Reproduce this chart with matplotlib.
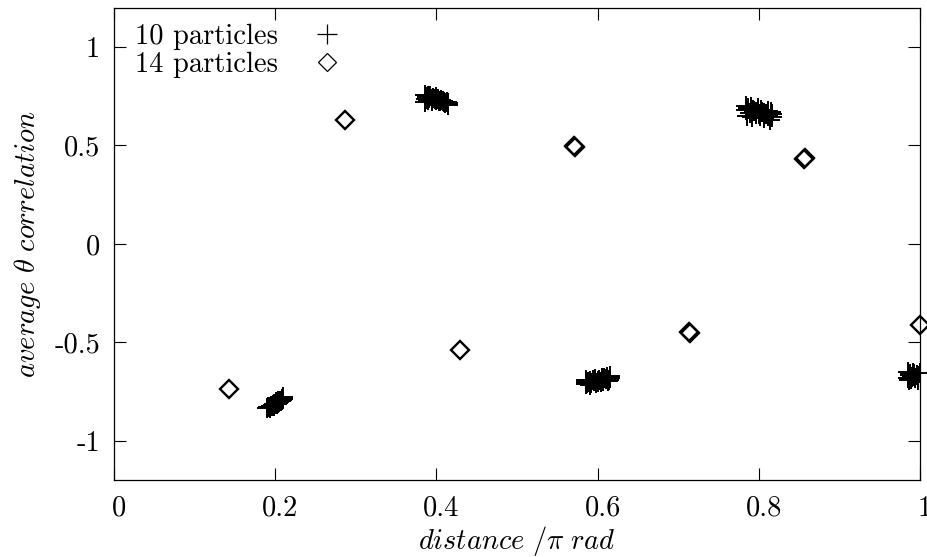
import matplotlib
matplotlib.use("Agg")
import matplotlib.pyplot as plt
import matplotlib.transforms as mtrans

plt.rcParams['font.family'] = ['cmr10', 'DejaVu Serif']
plt.rcParams['mathtext.fontset'] = 'cm'
plt.rcParams['axes.unicode_minus'] = False
plt.rcParams['axes.formatter.use_mathtext'] = True

# 10 particles: many runs per distance, they pile up into blobs
x10_a = [0.190, 0.191, 0.192, 0.193, 0.194, 0.195, 0.196, 0.197, 0.198, 0.199, 0.200, 0.201,
         0.202, 0.203, 0.204, 0.205, 0.206, 0.207, 0.208, 0.209, 0.210, 0.210]
y10_a = [-0.836, -0.830, -0.828, -0.833, -0.831, -0.822, -0.826, -0.818, -0.815, -0.824, -0.812, -0.806,
         -0.815, -0.810, -0.800, -0.804, -0.797, -0.801, -0.792, -0.788, -0.786, -0.776]
x10_b = [0.386, 0.386, 0.387, 0.388, 0.389, 0.390, 0.391, 0.392, 0.394, 0.395, 0.396, 0.398,
         0.399, 0.400, 0.402, 0.403, 0.405, 0.406, 0.408, 0.410, 0.411, 0.413, 0.414, 0.415, 0.415]
y10_b = [0.758, 0.722, 0.738, 0.745, 0.752, 0.733, 0.742, 0.750, 0.728, 0.736, 0.741, 0.735,
         0.746, 0.731, 0.738, 0.727, 0.724, 0.733, 0.728, 0.720, 0.716, 0.722, 0.712, 0.708, 0.716]
x10_c = [0.585, 0.585, 0.586, 0.587, 0.588, 0.590, 0.591, 0.592, 0.594, 0.595, 0.597, 0.598,
         0.600, 0.601, 0.602, 0.604, 0.605, 0.607, 0.608, 0.610, 0.612, 0.613, 0.614, 0.615, 0.615]
y10_c = [-0.712, -0.700, -0.690, -0.706, -0.703, -0.695, -0.715, -0.708, -0.692, -0.699, -0.688, -0.706,
         -0.702, -0.695, -0.693, -0.700, -0.684, -0.697, -0.681, -0.688, -0.678, -0.695, -0.692, -0.672, -0.684]
x10_d = [0.784, 0.784, 0.785, 0.786, 0.787, 0.789, 0.790, 0.791, 0.793, 0.794, 0.796, 0.797,
         0.799, 0.800, 0.801, 0.803, 0.804, 0.806, 0.807, 0.809, 0.811, 0.812, 0.814, 0.815, 0.816, 0.816]
y10_d = [0.700, 0.678, 0.652, 0.690, 0.685, 0.667, 0.695, 0.646, 0.681, 0.676, 0.659, 0.672,
         0.690, 0.662, 0.648, 0.679, 0.668, 0.638, 0.664, 0.658, 0.674, 0.650, 0.630, 0.668, 0.662, 0.645]
x10_e = [0.985, 0.985, 0.986, 0.987, 0.988, 0.989, 0.990, 0.991, 0.992, 0.993, 0.994, 0.996, 0.997, 0.998]
y10_e = [-0.652, -0.680, -0.690, -0.662, -0.668, -0.686, -0.678, -0.655, -0.660, -0.672, -0.684, -0.664, -0.693, -0.672]
x10_edge = [1.0]
y10_edge = [-0.656]

x10 = x10_a + x10_b + x10_c + x10_d + x10_e
y10 = y10_a + y10_b + y10_c + y10_d + y10_e

# 14 particles
x14 = [0.143, 0.286, 0.429, 0.571, 0.572, 0.714, 0.715, 0.857, 0.856, 1.0]
y14 = [-0.740, 0.630, -0.541, 0.495, 0.490, -0.448, -0.453, 0.436, 0.429, -0.410]

xticks = [0, 0.2, 0.4, 0.6, 0.8, 1]
xticklabels = ['0', '0.2', '0.4', '0.6', '0.8', '1']
yticks = [-1, -0.5, 0, 0.5, 1]
yticklabels = ['-1', '-0.5', '0', '0.5', '1']

fs = 20.5
fig = plt.figure(figsize=(9.28, 5.57), dpi=100)
ax = fig.add_axes([114 / 928, 77 / 557, 806 / 928, 472.3 / 557])

ax.plot(x10, y10, ls='none', marker='+', ms=14, mew=1.4, color='black', label='10 particles')
ax.plot(x10_edge, y10_edge, ls='none', marker='+', ms=14, mew=1.4, color='black', clip_on=False)
ax.plot(x14, y14, ls='none', marker='D', ms=9, mew=1.7, mfc='none', mec='black',
        clip_on=False, label='14 particles')

ax.set_xlim(0, 1)
ax.set_ylim(-1.2, 1.2)
ax.set_xticks(xticks)
ax.set_xticklabels(xticklabels, fontsize=fs)
ax.set_yticks(yticks)
ax.set_yticklabels(yticklabels, fontsize=fs)
ax.tick_params(direction='in', length=8.5, width=0.8, top=True, right=True)
ax.tick_params(axis='y', pad=10)
ax.tick_params(axis='x', pad=11)
shift = mtrans.ScaledTranslation(5 / 100, 0, fig.dpi_scale_trans)
for lab in ax.get_xticklabels():
    lab.set_transform(lab.get_transform() + shift)
for sp in ax.spines.values():
    sp.set_linewidth(0.9)

ax.set_xlabel(r'$distance\ /\pi\ rad$', fontsize=fs, labelpad=2)
ax.set_ylabel(r'$average\ \theta\ correlation$', fontsize=fs, labelpad=8)

leg = ax.legend(loc='upper left', bbox_to_anchor=(0.007, 1.0), frameon=False, markerfirst=False,
                fontsize=fs, labelspacing=0.07, handlelength=1.2, handletextpad=1.1,
                borderaxespad=0, borderpad=0.55)
leg.legend_handles[0].set_markeredgewidth(0.9)
leg.legend_handles[1].set_markeredgewidth(0.9)

fig.savefig('out.png', dpi=100)
